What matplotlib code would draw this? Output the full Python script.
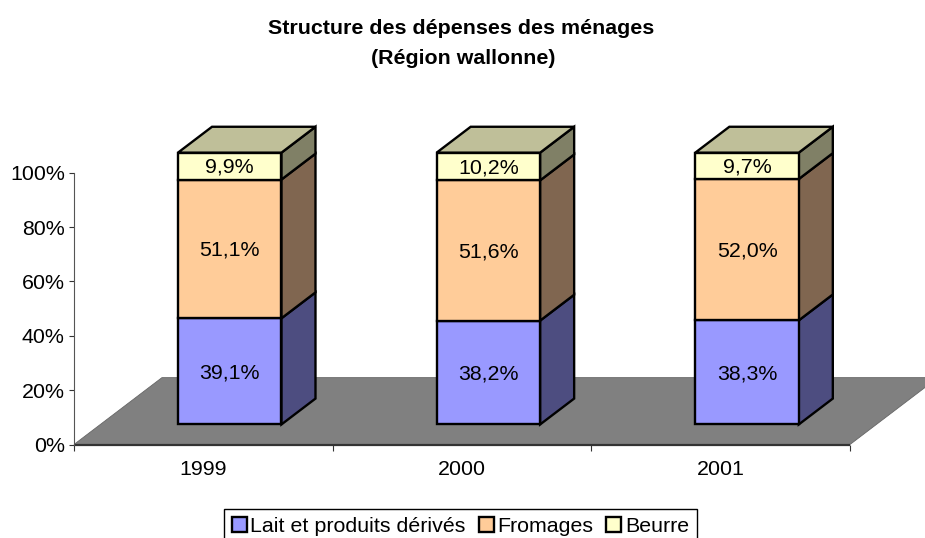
import matplotlib
matplotlib.use('Agg')
import matplotlib.pyplot as plt
from matplotlib.patches import Polygon, Patch

plt.rcParams['font.family'] = ['Liberation Sans', 'DejaVu Sans']

years = ['1999', '2000', '2001']
series_names = ['Lait et produits dérivés', 'Fromages', 'Beurre']
lait = [39.1, 38.2, 38.3]
fromages = [51.1, 51.6, 52.0]
beurre = [9.9, 10.2, 9.7]
y_ticks = [0, 20, 40, 60, 80, 100]

front_colors = ['#9999FF', '#FFCC99', '#FFFFCC']
side_colors = ['#4D4D80', '#806650', '#808066']
top_color = '#BFBF99'
floor_color = '#808080'

W, H = 925, 538
BAR_W = 0.4
FS = 15.4
LW = 1.7
# fake 3D: shift in data units for the full depth of the floor
DEPTH_X = 0.34
DEPTH_Y = 24.6
D_FRONT = 0.3
D_BACK = 0.687


def proj(x, y, d):
    return (x + d * DEPTH_X, y + d * DEPTH_Y)


fig = plt.figure(figsize=(W / 100, H / 100), dpi=100)
ax = fig.add_axes([74 / W, 1 - 444.5 / H, 776 / W, 271.8 / H])
ax.set_xlim(0, 3)
ax.set_ylim(0, 100)
for s in ['top', 'right', 'bottom']:
    ax.spines[s].set_visible(False)
ax.spines['left'].set_color('#555555')
ax.spines['left'].set_linewidth(0.8)

# floor
floor = [proj(0, 0, 0), proj(3, 0, 0), proj(3, 0, 1), proj(0, 0, 1)]
ax.add_patch(Polygon(floor, closed=True, facecolor=floor_color, edgecolor='#666666',
                     linewidth=0.6, clip_on=False, zorder=1))
ax.plot([0, 3], [0, 0], color='#333333', lw=1.6, clip_on=False, zorder=2,
        solid_capstyle='butt')

# bars
for i in range(len(years)):
    left = i + 0.5 - BAR_W / 2
    right = i + 0.5 + BAR_W / 2
    total = lait[i] + fromages[i] + beurre[i]
    bottom = 0
    for j, values in enumerate([lait, fromages, beurre]):
        v = values[i]
        top = bottom + v * 100 / total
        side = [proj(right, bottom, D_FRONT), proj(right, bottom, D_BACK),
                proj(right, top, D_BACK), proj(right, top, D_FRONT)]
        ax.add_patch(Polygon(side, closed=True, facecolor=side_colors[j], edgecolor='black',
                             linewidth=LW, clip_on=False, zorder=3))
        face = [proj(left, bottom, D_FRONT), proj(right, bottom, D_FRONT),
                proj(right, top, D_FRONT), proj(left, top, D_FRONT)]
        ax.add_patch(Polygon(face, closed=True, facecolor=front_colors[j], edgecolor='black',
                             linewidth=LW, clip_on=False, zorder=4))
        cx, cy = proj(i + 0.5, (bottom + top) / 2, D_FRONT)
        # the top labels sit above the axes, so no annotation clipping
        ax.annotate(f'{v:.1f}%'.replace('.', ','), (cx, cy), xytext=(0, -1), textcoords='offset points',
                    ha='center', va='center', fontsize=FS, color='black', zorder=6,
                    annotation_clip=False)
        bottom = top
    roof = [proj(left, bottom, D_FRONT), proj(right, bottom, D_FRONT),
            proj(right, bottom, D_BACK), proj(left, bottom, D_BACK)]
    ax.add_patch(Polygon(roof, closed=True, facecolor=top_color, edgecolor='black',
                         linewidth=LW, clip_on=False, zorder=5))

# axes ticks
ax.set_yticks(y_ticks)
ax.set_yticklabels([f'{t}%' for t in y_ticks], fontsize=FS)
ax.tick_params(axis='y', length=3.6, width=0.8, color='#333333', pad=3)
ax.set_xticks([0, 1, 2, 3])
ax.set_xticklabels([])
ax.set_xticks([0.5, 1.5, 2.5], minor=True)
ax.set_xticklabels(years, minor=True, fontsize=FS)
ax.tick_params(axis='x', which='major', length=4.5, width=0.8, color='#333333')
ax.tick_params(axis='x', which='minor', length=0, pad=11.5)

fig.text(461 / W, 1 - 28.5 / H, 'Structure des dépenses des ménages', ha='center', va='center',
         fontsize=FS, fontweight='bold')
fig.text(463 / W, 1 - 59 / H, '(Région wallonne)', ha='center', va='center',
         fontsize=FS, fontweight='bold')

handles = [Patch(facecolor=c, edgecolor='black', linewidth=LW) for c in front_colors]
leg = fig.legend(handles, series_names, loc='upper left',
                 bbox_to_anchor=(224 / W, 1 - 509 / H), ncol=3, fontsize=FS,
                 fancybox=False, framealpha=1, edgecolor='black', borderpad=0.36,
                 handlelength=0.7, handleheight=0.7, handletextpad=0.16, columnspacing=0.62,
                 borderaxespad=0)
leg.get_frame().set_linewidth(1.0)

fig.savefig('out.png', dpi=100)
plt.close(fig)
